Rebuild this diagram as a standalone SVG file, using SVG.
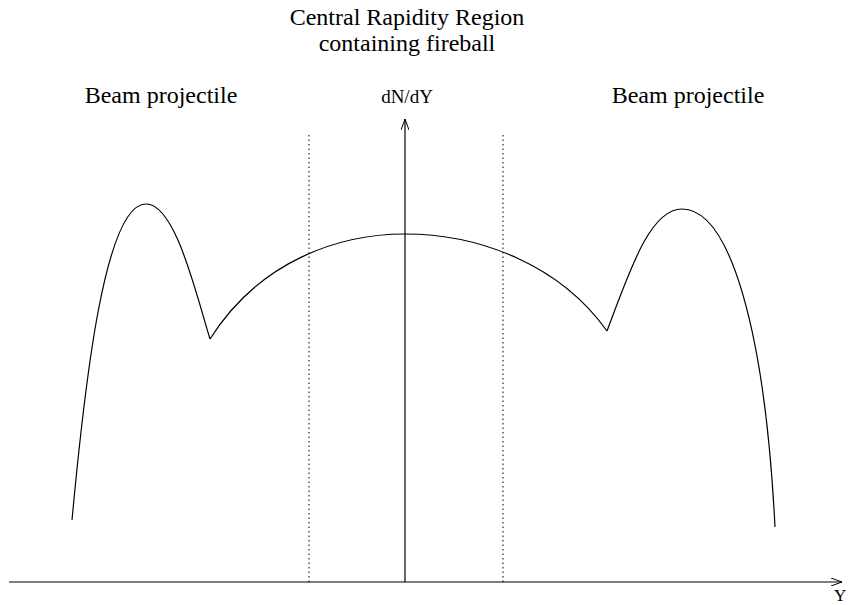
<svg xmlns="http://www.w3.org/2000/svg" width="852" height="605" viewBox="0 0 852 605">
<style>
.t{font-family:"Liberation Serif","Times New Roman",serif;font-size:24px;fill:#000}
.ln{stroke:#000;stroke-width:1.2;fill:none}
.dot{stroke:#000;stroke-width:1;stroke-dasharray:1.5,3;fill:none}
</style>
<defs>
<marker id="ah" markerWidth="12" markerHeight="8" refX="11" refY="4" orient="auto" markerUnits="userSpaceOnUse">
<path d="M0,0 L11,4 L0,8" fill="none" stroke="#000" stroke-width="1"/>
</marker>
</defs>
<rect width="852" height="605" fill="#fff"/>
<g id="axes">
<line class="ln" x1="9" y1="582" x2="842" y2="582" marker-end="url(#ah)"/>
<line class="ln" x1="405" y1="582" x2="405" y2="119" marker-end="url(#ah)"/>
</g>
<g id="dotted">
<line class="dot" x1="309" y1="135" x2="309" y2="582"/>
<line class="dot" x1="503" y1="135" x2="503" y2="582"/>
</g>
<g id="curve">
<path class="ln" d="M72,520 C85,380 105,204 146,204 C175,204 195,290 210,339"/>
<path class="ln" d="M210,339 C260,260 340,234 405,234 C480,234 560,265 607,331"/>
<path class="ln" d="M607,331 C630,270 650,209 682,209 C730,209 765,330 775,527"/>
</g>
<g id="labels">
<text class="t" x="407" y="25" text-anchor="middle">Central Rapidity Region</text>
<text class="t" x="407" y="51" text-anchor="middle">containing fireball</text>
<text class="t" x="161" y="103" text-anchor="middle">Beam projectile</text>
<text class="t" x="688" y="103" text-anchor="middle">Beam projectile</text>
<text class="t" x="407" y="103" text-anchor="middle" style="font-size:19px">dN/dY</text>
<text class="t" x="834" y="601" style="font-size:17px">Y</text>
</g>
</svg>
